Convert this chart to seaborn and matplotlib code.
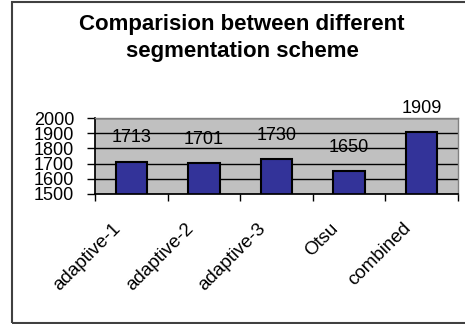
import matplotlib
matplotlib.use("Agg")
import matplotlib.pyplot as plt
import matplotlib.transforms as mtransforms
import seaborn as sns
import pandas as pd
from matplotlib.patches import Rectangle

categories = ["adaptive-1", "adaptive-2", "adaptive-3", "Otsu", "combined"]
values = [1713, 1701, 1730, 1650, 1909]
yticks = [1500, 1600, 1700, 1800, 1900, 2000]
title = "Comparision between different\nsegmentation scheme"

df = pd.DataFrame({"scheme": categories, "value": values})

sns.set_theme(style="white")
plt.rcParams["font.family"] = ["Liberation Sans", "DejaVu Sans"]
plt.rcParams["text.color"] = "black"
plt.rcParams["xtick.color"] = "black"
plt.rcParams["ytick.color"] = "black"

fig = plt.figure(figsize=(4.65, 3.24), dpi=100)
ax = fig.add_axes([95/465, 1-194/324, (458-95)/465, (194-118)/324])
ax.set_facecolor("#c0c0c0")

sns.barplot(data=df, x="scheme", y="value", ax=ax, color="#333399",
            edgecolor="black", linewidth=1.5, width=0.43, saturation=1)

ax.set_ylim(1500, 2000)
ax.set_xlim(-0.5, len(categories) - 0.5)
ax.set_yticks(yticks)
ax.set_yticklabels([str(t) for t in yticks], fontsize=13)
ax.yaxis.grid(True, color="black", linewidth=1)
ax.set_axisbelow(True)
ax.set_xlabel("")
ax.set_ylabel("")

ax.set_xticks(range(len(categories)))
ax.set_xticklabels(categories, rotation=45, ha="right", va="center",
                   rotation_mode="anchor", fontsize=13.5)
ax.tick_params(axis="x", which="major", length=0, pad=23)
shift = mtransforms.ScaledTranslation(-13/100, 0, fig.dpi_scale_trans)
for lbl in ax.get_xticklabels():
    lbl.set_transform(lbl.get_transform() + shift)
ax.set_xticks([i - 0.5 for i in range(len(categories) + 1)], minor=True)
ax.tick_params(axis="x", which="minor", length=5, width=1, color="black", direction="out", bottom=True)
ax.tick_params(axis="y", length=6, width=1, color="black", direction="out", left=True, pad=9)

for s in ["top", "right"]:
    ax.spines[s].set_color("#808080")
    ax.spines[s].set_linewidth(1)
ax.spines["left"].set_color("black")
ax.spines["bottom"].set_color("black")

for i, v in enumerate(values):
    ax.annotate(str(v), (i, v), xytext=(0, 11), textcoords="offset points",
                ha="center", va="bottom", fontsize=13, clip_on=False)

fig.text(242/465, 1 - 38/324, title, ha="center", va="center", fontsize=16,
         fontweight="bold", linespacing=1.4)

fig.patches.append(Rectangle((12/465, 1/324), 1.0, 321/324, transform=fig.transFigure,
                             fill=False, edgecolor="#404040", linewidth=1.5))

fig.savefig("out.png", dpi=100)
